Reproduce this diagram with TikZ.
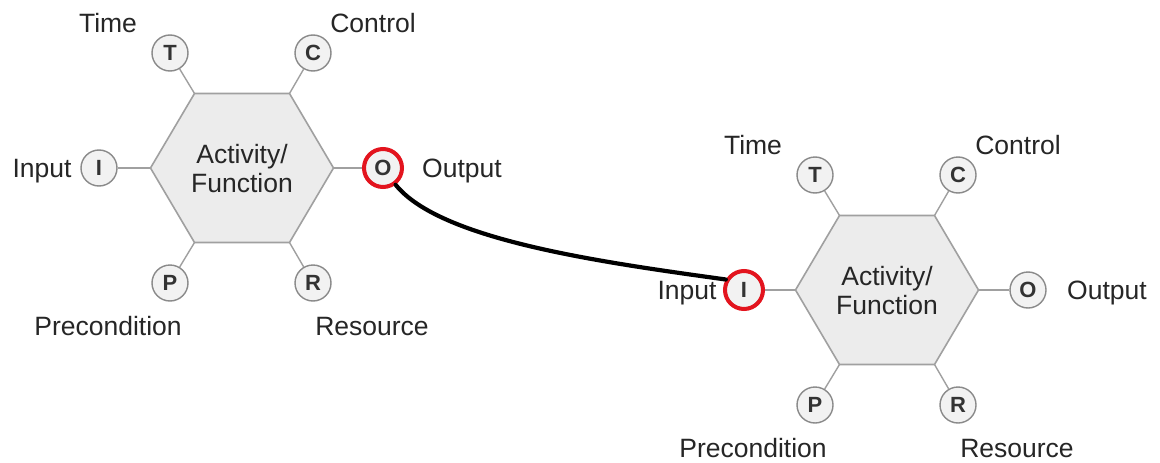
\documentclass[tikz,border=0pt]{standalone}
\usepackage{fontspec}
\setmainfont{Liberation Sans}
\definecolor{hexfill}{HTML}{ECECEC}
\definecolor{hexline}{HTML}{A0A0A0}
\definecolor{circfill}{HTML}{F2F2F2}
\definecolor{circline}{HTML}{8A8A8A}
\definecolor{ringred}{HTML}{E3141E}
\tikzset{
  hexbox/.style={draw=hexline, fill=hexfill, line width=1.6pt, line join=miter},
  portc/.style={circle, draw=circline, fill=circfill, line width=1.4pt, minimum size=36pt, inner sep=0pt, font=\fontsize{22}{22}\selectfont\bfseries, text=black!80},
  stub/.style={draw=hexline, line width=1.4pt},
  lbl/.style={anchor=base, inner sep=0pt, font=\fontsize{26.5}{29}\selectfont, text=black!85},
  redring/.style={circle, draw=ringred, line width=4pt, minimum size=38pt, inner sep=0pt},
  link/.style={draw=black, line width=4.2pt, line cap=round},
  actdiag/.pic={
    \coordinate (-tl) at (-47.5,-74.5);
    \coordinate (-tr) at (47.5,-74.5);
    \coordinate (-r) at (91.5,0);
    \coordinate (-br) at (47.5,74.5);
    \coordinate (-bl) at (-47.5,74.5);
    \coordinate (-l) at (-91.5,0);
    \draw[hexbox] (-tl) -- (-tr) -- (-r) -- (-br) -- (-bl) -- (-l) -- cycle;
    \node[lbl] (-act) at (0,-5) {Activity/};
    \node[lbl] (-fun) at (0,24) {Function};
    \node[portc] (-T) at (-72,-115) {T};
    \node[portc] (-C) at (71,-115) {C};
    \node[portc] (-I) at (-143,0) {I};
    \node[portc] (-O) at (141,0) {O};
    \node[portc] (-P) at (-72,115) {P};
    \node[portc] (-R) at (71,115) {R};
    \draw[stub] (-tl) -- (-T);
    \draw[stub] (-tr) -- (-C);
    \draw[stub] (-l) -- (-I);
    \draw[stub] (-r) -- (-O);
    \draw[stub] (-bl) -- (-P);
    \draw[stub] (-br) -- (-R);
    \node[lbl] (-time) at (-134,-136) {Time};
    \node[lbl] (-control) at (131,-136) {Control};
    \node[lbl] (-input) at (-200,9) {Input};
    \node[lbl] (-output) at (220,9) {Output};
    \node[lbl] (-pre) at (-134,167) {Precondition};
    \node[lbl] (-res) at (130,167) {Resource};
  }
}
\begin{document}
\begin{tikzpicture}[x=1pt,y=-1pt]
\useasboundingbox[fill=white] (0,0) rectangle (1160,463);
\pic (A) at (242,168) {actdiag};
\pic (B) at (887,290) {actdiag};
\node[redring] (ringA) at (A-O) {};
\node[redring] (ringB) at (B-I) {};
\draw[link] (ringA.-53) .. controls (440,240) and (600,262) .. (ringB.150);
\end{tikzpicture}
\end{document}
